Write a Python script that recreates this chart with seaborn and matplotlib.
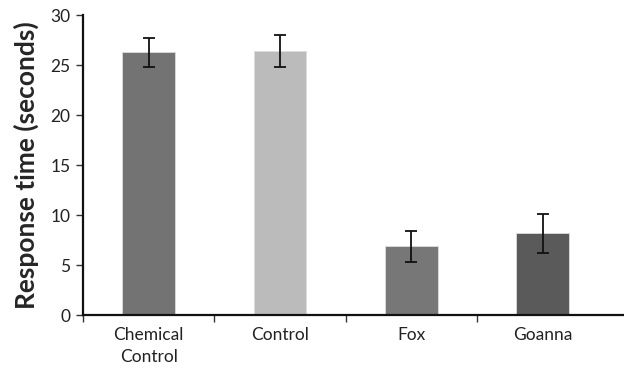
import matplotlib
matplotlib.use("Agg")
import matplotlib.pyplot as plt
import seaborn as sns
import pandas as pd
from matplotlib.ticker import FixedLocator

categories = ["Chemical\nControl", "Control", "Fox", "Goanna"]
means = [26.3, 26.4, 6.9, 8.2]
errors = [1.45, 1.6, 1.55, 1.95]
colors = ["#737373", "#BBBBBB", "#777777", "#5A5A5A"]
yticks = [0, 5, 10, 15, 20, 25, 30]

sns.set_style("white")
plt.rcParams["font.family"] = ["Lato", "DejaVu Sans"]

df = pd.DataFrame({"cat": categories, "mean": means})

fig = plt.figure(figsize=(6.24, 3.72), dpi=100)
ax = fig.add_axes([83/624, 1 - 315/372, 1 - 83/624, 300/372])

sns.barplot(data=df, x="cat", y="mean", hue="cat", palette=colors,
            width=0.4, errorbar=None, legend=False, ax=ax,
            edgecolor="#DDDDDD", linewidth=0.6)

for p, e in zip(ax.patches, errors):
    cx = p.get_x() + p.get_width() / 2
    ax.errorbar(cx, p.get_height(), yerr=e, color="#111111",
                elinewidth=1.3, capsize=4, capthick=1.3, fmt="none")

ax.set_xlim(-0.5, 3.62)
ax.set_ylim(0, 30)
ax.set_yticks(yticks)
ax.set_ylabel("Response time (seconds)", fontsize=19, fontweight="bold", labelpad=8)
ax.set_xlabel("")

ax.xaxis.set_major_locator(FixedLocator([-0.5, 0.5, 1.5, 2.5]))
ax.xaxis.set_minor_locator(FixedLocator([0, 1, 2, 3]))
ax.set_xticklabels([], minor=False)
ax.set_xticklabels(categories, minor=True, linespacing=1.45)
ax.tick_params(axis="x", which="major", length=5, width=1, color="#333333", direction="out", bottom=True)
ax.tick_params(axis="x", which="minor", length=0, labelsize=12.5, pad=9, colors="#222222")
ax.tick_params(axis="y", length=5, width=1, color="#333333", direction="out", left=True, labelsize=12.5, pad=4, labelcolor="#222222")

for s in ["top", "right"]:
    ax.spines[s].set_visible(False)
for s in ["left", "bottom"]:
    ax.spines[s].set_color("#111111")
    ax.spines[s].set_linewidth(1.6)

fig.savefig("out.png", dpi=100)
